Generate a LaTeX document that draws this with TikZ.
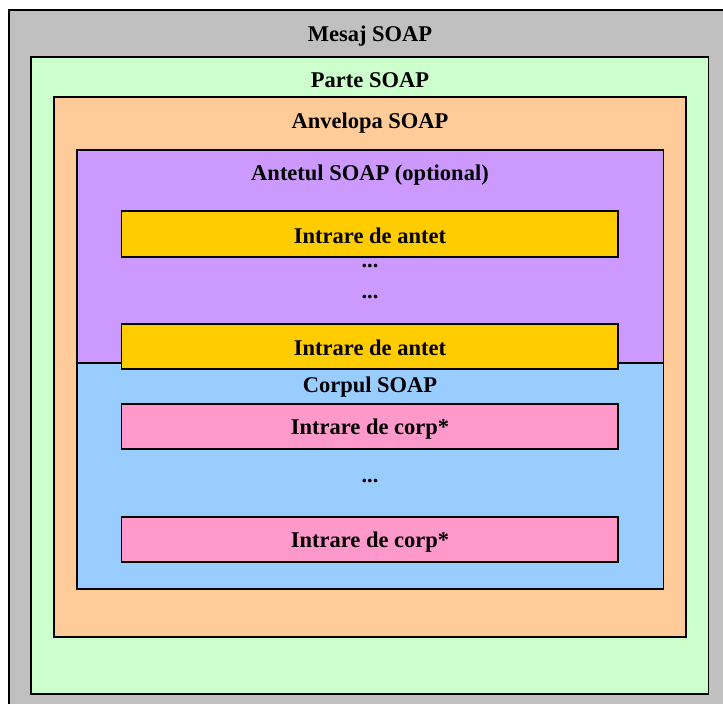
\documentclass[tikz,border=0pt]{standalone}
\usepackage{fontspec}
\setmainfont{Liberation Serif}
\definecolor{msggray}{HTML}{C0C0C0}
\definecolor{partgreen}{HTML}{CCFFCC}
\definecolor{envorange}{HTML}{FFCC99}
\definecolor{hdrpurple}{HTML}{CC99FF}
\definecolor{bodyblue}{HTML}{99CCFF}
\definecolor{entryyellow}{HTML}{FFCC00}
\definecolor{entrypink}{HTML}{FF99CC}
\tikzset{
  layer/.style={draw=black, line width=1.5pt},
  lbl/.style={anchor=base, inner sep=0pt, font=\fontsize{22.5}{27}\selectfont\bfseries}
}
\begin{document}
\begin{tikzpicture}[x=1pt,y=-1pt]
  \useasboundingbox (0,0) rectangle (723,704);
  % nested containers, outermost first
  \draw[layer, fill=msggray]    (9,10)    rectangle (735,716);
  \draw[layer, fill=partgreen]  (31,57)   rectangle (708.5,694);
  \draw[layer, fill=envorange]  (54,97)   rectangle (686,637);
  \draw[layer, fill=hdrpurple]  (77,150)  rectangle (663.5,363);
  \draw[layer, fill=bodyblue]   (77,363)  rectangle (663.5,589);
  % header and body entries
  \draw[layer, fill=entryyellow] (121.5,211) rectangle (618,257);
  \draw[layer, fill=entryyellow] (121.5,324) rectangle (618,369);
  \draw[layer, fill=entrypink]   (121.5,404) rectangle (618,449);
  \draw[layer, fill=entrypink]   (121.5,517) rectangle (618,562);
  % labels
  \node[lbl] (mesaj)   at (370,41)    {Mesaj SOAP};
  \node[lbl] (parte)   at (370,87.5)  {Parte SOAP};
  \node[lbl] (anvel)   at (370,128.5) {Anvelopa SOAP};
  \node[lbl] (antet)   at (370,180.5) {Antetul SOAP (optional)};
  \node[lbl] (hentry1) at (370,243)   {Intrare de antet};
  \node[lbl] (hdots1)  at (370,267)   {...};
  \node[lbl] (hdots2)  at (370,298)   {...};
  \node[lbl] (hentry2) at (370,355)   {Intrare de antet};
  \node[lbl] (corp)    at (370,392)   {Corpul SOAP};
  \node[lbl] (bentry1) at (370,434)   {Intrare de corp*};
  \node[lbl] (bdots)   at (370,482)   {...};
  \node[lbl] (bentry2) at (370,547)   {Intrare de corp*};
\end{tikzpicture}
\end{document}
